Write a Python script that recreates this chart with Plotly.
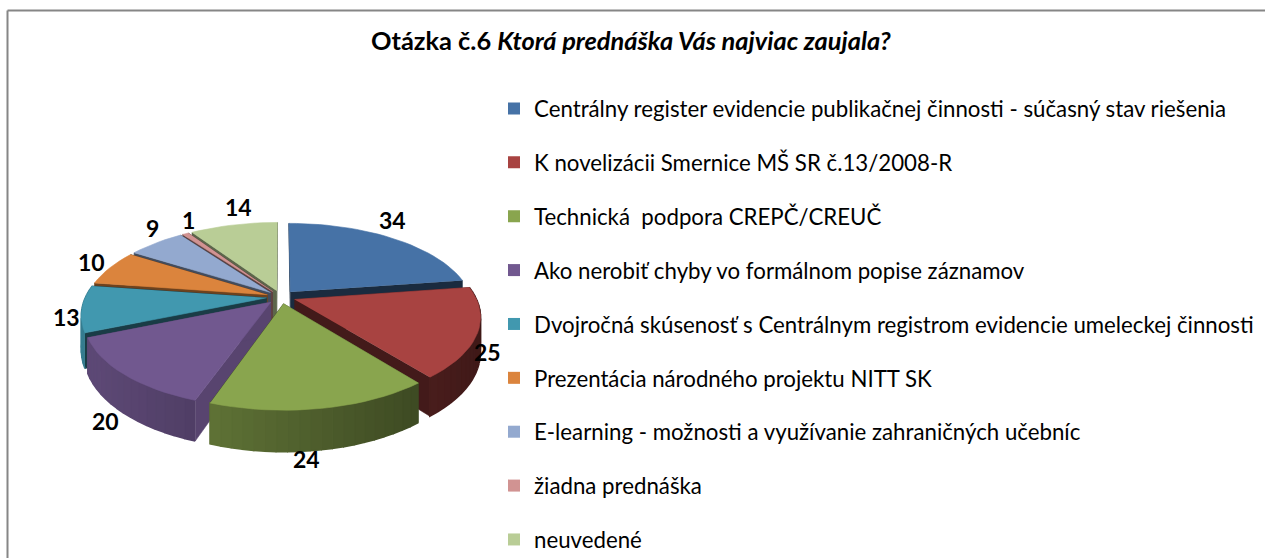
import math
import plotly.graph_objects as go

categories = [
    "Centrálny register evidencie publikačnej činnosti - súčasný stav riešenia",
    "K novelizácii Smernice MŠ SR č.13/2008-R",
    "Technická  podpora CREPČ/CREUČ",
    "Ako nerobiť chyby vo formálnom popise záznamov",
    "Dvojročná skúsenosť s Centrálnym registrom evidencie umeleckej činnosti",
    "Prezentácia národného projektu NITT SK",
    "E-learning - možnosti a využívanie zahraničných učebníc",
    "žiadna prednáška",
    "neuvedené",
]
values = [34, 25, 24, 20, 13, 10, 9, 1, 14]
colors = ["#4672A6", "#A84341", "#89A54E", "#71588F", "#4198AF",
          "#DB843D", "#93A9CF", "#D19392", "#B9CD96"]
cut_shade = [0.38, 0.40, 0.45, 0.78, 0.40, 0.50, 0.45, 0.45, 0.50]
label_shift = [(1, -18), (10, 19), (-15, 51), (-18, 47), (-15, 8),
               (-19, -6), (-4, -15), (3, -14), (5, -18)]

FONT = "Lato"
CX, CY = 281, 297      # pie centre in the page frame
RX, RY = 181, 83.4     # disc radii
PERSP = 0.19           # perspective strength
EXPLODE = 0.08
DEPTH = 33


def project(u, v, drop=0.0):
    s = 1 / (1 + PERSP * v)
    return CX + RX * u * s, CY - RY * v * s + drop * DEPTH * s


def shade(hex_color, f):
    r, g, b = (int(hex_color[i:i + 2], 16) for i in (1, 3, 5))
    return f"rgb({int(r * f)},{int(g * f)},{int(b * f)})"


def wall_factor(x):
    return max(0.38, min(0.82, 0.82 - 0.44 * (x - 100) / 380))


fig = go.Figure()
total = sum(values)
slices = []
start = 0.0
for i, val in enumerate(values):
    end = start + val / total * 2 * math.pi
    slices.append((i, start, end, (start + end) / 2))
    start = end


def poly(xs, ys, color, name, width=0.6):
    fig.add_trace(go.Scatter(
        x=xs, y=ys, mode="lines", fill="toself", fillcolor=color,
        line=dict(color=color, width=width), showlegend=False,
        hoverinfo="text", text=name))


for i, a0, a1, mid in sorted(slices, key=lambda t: -math.cos(t[3])):
    ox, oy = EXPLODE * math.sin(mid), EXPLODE * math.cos(mid)
    n = max(2, int((a1 - a0) / 0.05))
    angles = [a0 + (a1 - a0) * j / n for j in range(n + 1)]
    rim = [(ox + math.sin(t), oy + math.cos(t)) for t in angles]
    label = f"{categories[i]}: {values[i]}"
    # radial cut faces
    for (u, v) in (rim[0], rim[-1]):
        pts = [project(ox, oy), project(u, v), project(u, v, 1), project(ox, oy, 1)]
        poly([p[0] for p in pts], [p[1] for p in pts], shade(colors[i], cut_shade[i]), label)
    # outer wall, split in strips for the horizontal gradient
    for j in range(n):
        (u0, v0), (u1, v1) = rim[j], rim[j + 1]
        if min(v0, v1) > 0.15:
            continue
        pts = [project(u0, v0), project(u1, v1), project(u1, v1, 1), project(u0, v0, 1)]
        f = wall_factor((pts[0][0] + pts[1][0]) / 2)
        poly([p[0] for p in pts], [p[1] for p in pts], shade(colors[i], f), label, width=1.6)
    # top surface
    pts = [project(ox, oy)] + [project(u, v) for u, v in rim]
    poly([p[0] for p in pts], [p[1] for p in pts], colors[i], label)

# legend entries
for name, color in zip(categories, colors):
    fig.add_trace(go.Scatter(
        x=[None], y=[None], mode="markers", name=name, legendgroup=name,
        marker=dict(symbol="square", size=14, color=color)))

annotations = []
for i, a0, a1, mid in slices:
    ox, oy = EXPLODE * math.sin(mid), EXPLODE * math.cos(mid)
    x, y = project(ox + math.sin(mid), oy + math.cos(mid))
    annotations.append(dict(
        x=x, y=y, xref="x", yref="y", text=f"<b>{values[i]}</b>", showarrow=False,
        xshift=label_shift[i][0], yshift=-label_shift[i][1],
        font=dict(family=FONT, size=23, color="#000000")))
annotations.append(dict(
    x=630.5, y=40, xref="x", yref="y", showarrow=False,
    text="<b>Otázka č.6 <i>Ktorá prednáška Vás najviac zaujala?</i></b>",
    font=dict(family=FONT, size=25.4, color="#000000")))

fig.update_layout(
    width=1265, height=558,
    margin=dict(l=0, r=0, t=0, b=0, autoexpand=False),
    paper_bgcolor="white", plot_bgcolor="white",
    xaxis=dict(range=[0, 1265], visible=False, fixedrange=True),
    yaxis=dict(range=[558, 0], visible=False, fixedrange=True),
    annotations=annotations,
    shapes=[
        dict(type="line", x0=7.5, x1=7.5, y0=10.5, y1=558, xref="x", yref="y",
             line=dict(color="#868686", width=2)),
        dict(type="line", x0=7.5, x1=1265, y0=10.5, y1=10.5, xref="x", yref="y",
             line=dict(color="#868686", width=2)),
    ],
    legend=dict(
        x=500 / 1265, xanchor="left", y=1 - 87.5 / 558, yanchor="top",
        font=dict(family=FONT, size=22.25, color="#000000"),
        tracegroupgap=21.95, itemsizing="constant", bgcolor="rgba(0,0,0,0)",
        indentation=-6, maxheight=700),
)

fig.write_html("out.html", config={"displayModeBar": False},
               post_script="document.body.style.margin='0';document.body.style.overflow='hidden';")
